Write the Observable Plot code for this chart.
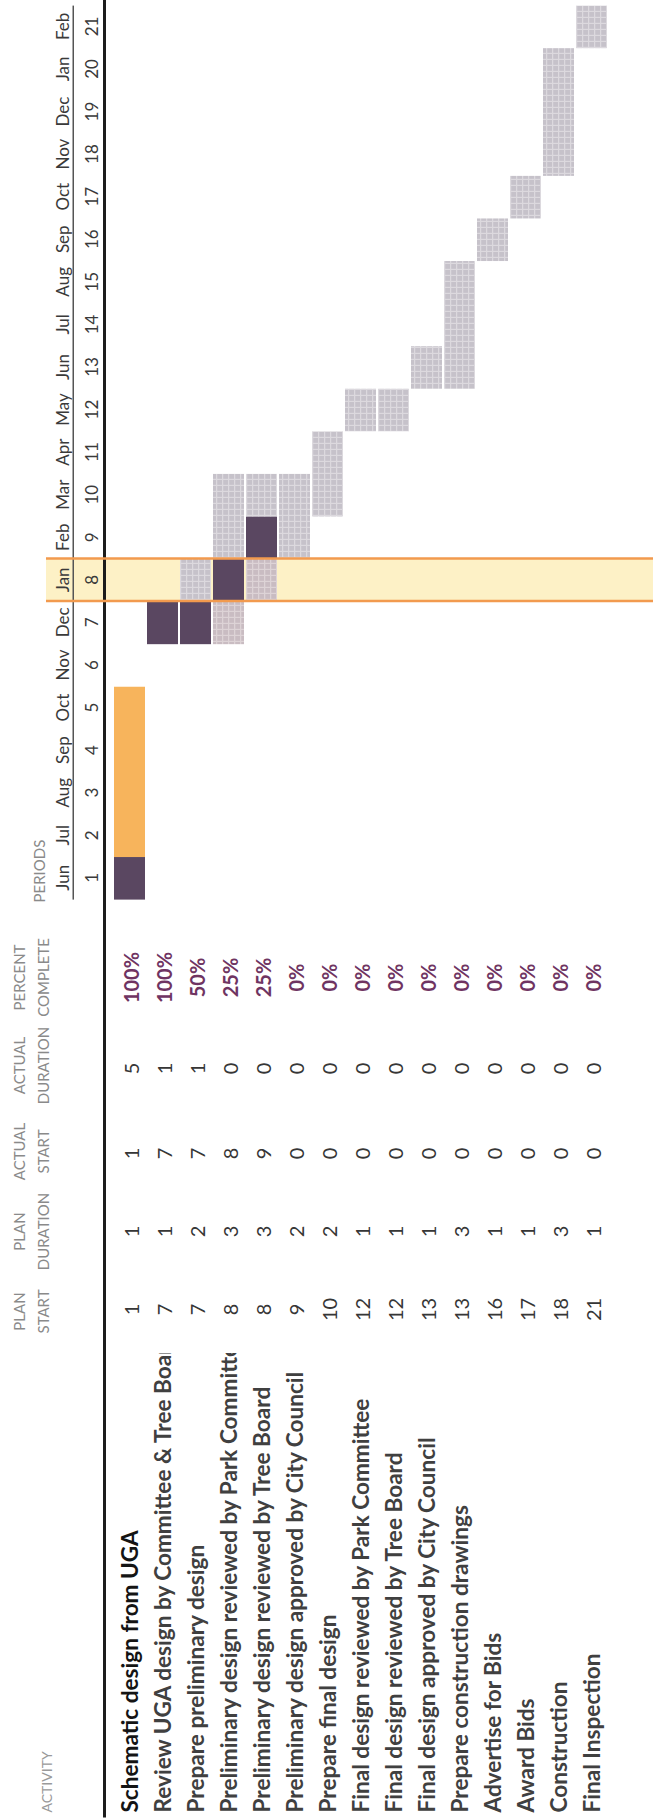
<!DOCTYPE html>
<html><head><meta charset="utf-8">
<script src="https://cdn.jsdelivr.net/npm/d3@7"></script>
<script src="https://cdn.jsdelivr.net/npm/@observablehq/plot@0.6"></script>
<style>
html,body{margin:0;padding:0;background:#fff;}
#wrap{position:relative;width:653px;height:1818px;overflow:hidden;background:#fff;}
#wrap svg{position:absolute;left:0;top:0;max-width:none !important;width:1818px !important;height:653px !important;transform-origin:0 0;transform:translate(0px,1818px) rotate(-90deg);}
</style></head><body><div id="wrap"></div>
<script>
const activities = [
  "Schematic design from UGA",
  "Review UGA design by Committee & Tree Board",
  "Prepare preliminary design",
  "Preliminary design reviewed by Park Committee",
  "Preliminary design reviewed by Tree Board",
  "Preliminary design approved by City Council",
  "Prepare final design",
  "Final design reviewed by Park Committee",
  "Final design reviewed by Tree Board",
  "Final design approved by City Council",
  "Prepare construction drawings",
  "Advertise for Bids",
  "Award Bids",
  "Construction",
  "Final Inspection"
];
const planStart      = [1, 7, 7, 8, 8, 9, 10, 12, 12, 13, 13, 16, 17, 18, 21];
const planDuration   = [1, 1, 2, 3, 3, 2, 2, 1, 1, 1, 3, 1, 1, 3, 1];
const actualStart    = [1, 7, 7, 8, 9, 0, 0, 0, 0, 0, 0, 0, 0, 0, 0];
const actualDuration = [5, 1, 1, 0, 0, 0, 0, 0, 0, 0, 0, 0, 0, 0, 0];
const percentComplete = ["100%","100%","50%","25%","25%","0%","0%","0%","0%","0%","0%","0%","0%","0%","0%"];
const months  = ["Jun","Jul","Aug","Sep","Oct","Nov","Dec","Jan","Feb","Mar","Apr","May","Jun","Jul","Aug","Sep","Oct","Nov","Dec","Jan","Feb"];
const periods = [1,2,3,4,5,6,7,8,9,10,11,12,13,14,15,16,17,18,19,20,21];
const currentPeriod = 8;
// shaded cells: row (1-based), first period, last period, kind
const segRow  = [1, 1, 2, 3, 3, 4, 4, 4, 5, 5, 5, 6, 7, 8, 9, 10, 11, 12, 13, 14, 15];
const segFrom = [1, 2, 7, 7, 8, 7, 8, 9, 8, 9, 10, 9, 10, 12, 12, 13, 13, 16, 17, 18, 21];
const segTo   = [1, 5, 7, 7, 8, 7, 8, 10, 8, 9, 10, 10, 11, 12, 12, 13, 15, 16, 17, 20, 21];
const segKind = ["complete","beyond","complete","complete","plan","warm","complete","plan","warm","complete","plan","plan","plan","plan","plan","plan","plan","plan","plan","plan","plan"];
const kinds = ["complete","beyond","plan","warm"];

const rows = activities.map((a, i) => i);
const segs = segRow.map((r, i) => i);
const font = "Lato, 'Open Sans', sans-serif";

const headerCols = [
  {label: "PLAN\nSTART", dx: 506},
  {label: "PLAN\nDURATION", dx: 586},
  {label: "ACTUAL\nSTART", dx: 666},
  {label: "ACTUAL\nDURATION", dx: 752},
  {label: "PERCENT\nCOMPLETE", dx: 840}
];

function colText(values, dx, opts = {}) {
  return Plot.text(rows, {
    y: i => activities[i], text: i => values[i], frameAnchor: "left", lineAnchor: "middle", dx, dy: 3,
    textAnchor: "middle", fontSize: 20, fill: "#363636", ...opts
  });
}

const svg = Plot.plot({
  width: 1818, height: 653, margin: 0,
  style: {fontFamily: font, background: "#fff"},
  x: {type: "linear", domain: [0.5, 21.5], range: [918.4, 1812.4], axis: null},
  y: {type: "band", domain: activities, range: [104, 616], padding: 0.07, axis: null},
  color: {type: "ordinal", domain: kinds, range: ["#5a4761", "#f7b45c", "url(#hatchPlan)", "url(#hatchWarm)"]},
  marks: [
    Plot.barX([currentPeriod], {x1: d => d - 0.5, x2: d => d + 0.5, fill: "#fdf1c6", insetTop: 46}),
    Plot.frame({fill: "#1c1c1c", stroke: "none", insetTop: 102.5, insetBottom: 547.5}),
    Plot.barX([periods[0]], {x1: d => d - 0.5, x2: periods[periods.length - 1] + 0.5, fill: "#555", insetTop: 72.5, insetBottom: 579}),
    Plot.barX(segs, {
      x1: i => segFrom[i] - 0.5, x2: i => segTo[i] + 0.5,
      y: i => activities[segRow[i] - 1], fill: i => segKind[i]
    }),
    Plot.ruleX([currentPeriod - 0.5, currentPeriod + 0.5], {stroke: "#f29a4e", strokeWidth: 2.5, insetTop: 46}),
    Plot.text(periods, {x: d => d, text: d => months[d - 1], frameAnchor: "top", lineAnchor: "middle", dy: 63, fontSize: 17, fill: "#3a3a3a"}),
    Plot.text(periods, {x: d => d, text: d => String(d), frameAnchor: "top", lineAnchor: "middle", dy: 92, fontSize: 17, fill: "#3a3a3a"}),
    ...headerCols.map(h => Plot.text([h], {text: "label", frameAnchor: "top-left", lineAnchor: "middle", dx: h.dx, dy: 29, fontSize: 15, fill: "#8a8a8a", lineHeight: 1.6, textAnchor: "middle"})),
    Plot.text(["ACTIVITY"], {text: d => d, frameAnchor: "top-left", lineAnchor: "middle", dx: 5, dy: 47, fontSize: 14, fill: "#9a9a9a", textAnchor: "start"}),
    Plot.text(["PERIODS"], {text: d => d, frameAnchor: "top-left", lineAnchor: "middle", dx: 915, dy: 40, fontSize: 15, fill: "#8a8a8a", textAnchor: "start"}),
    Plot.text(rows, {
      y: i => activities[i], text: i => activities[i], frameAnchor: "left", lineAnchor: "middle", dx: 5, dy: 1,
      textAnchor: "start", fontSize: 22.6, fontWeight: "bold",
      fill: i => i === 0 ? "#141414" : "#404040"
    }),
    colText(planStart, 508),
    colText(planDuration, 586),
    colText(actualStart, 664),
    colText(actualDuration, 749),
    colText(percentComplete, 840, {fill: "#6f3462", fontWeight: "bold"})
  ]
});

const s = d3.select(svg);
const defs = s.insert("defs", ":first-child");
const p1 = defs.append("pattern").attr("id", "hatchPlan").attr("width", 6).attr("height", 6).attr("patternUnits", "userSpaceOnUse");
p1.append("rect").attr("width", 6).attr("height", 6).attr("fill", "#c6c2ca");
p1.append("path").attr("d", "M0 0.6H6M0.6 0V6").attr("stroke", "#dcd9de").attr("stroke-width", 1.2);
const p2 = defs.append("pattern").attr("id", "hatchWarm").attr("width", 6).attr("height", 6).attr("patternUnits", "userSpaceOnUse");
p2.append("rect").attr("width", 6).attr("height", 6).attr("fill", "#c9bcc2");
p2.append("path").attr("d", "M0 0.6H6M0.6 0V6").attr("stroke", "#ddd3d6").attr("stroke-width", 1.2);
// the activity column is narrower than its longest names: clip them at the cell edge
defs.append("clipPath").attr("id", "actClip").append("rect").attr("x", 0).attr("y", 0).attr("width", 465).attr("height", 653);
const labelG = s.selectAll(":scope > g")
  .filter(function () { return this.textContent.includes("Schematic design from UGA") && !this.textContent.includes("%"); })
  .node();
if (labelG) {
  const wrapG = document.createElementNS("http://www.w3.org/2000/svg", "g");
  wrapG.setAttribute("clip-path", "url(#actClip)");
  labelG.parentNode.insertBefore(wrapG, labelG);
  wrapG.appendChild(labelG);
}

document.getElementById("wrap").appendChild(svg);
</script>
</body></html>
